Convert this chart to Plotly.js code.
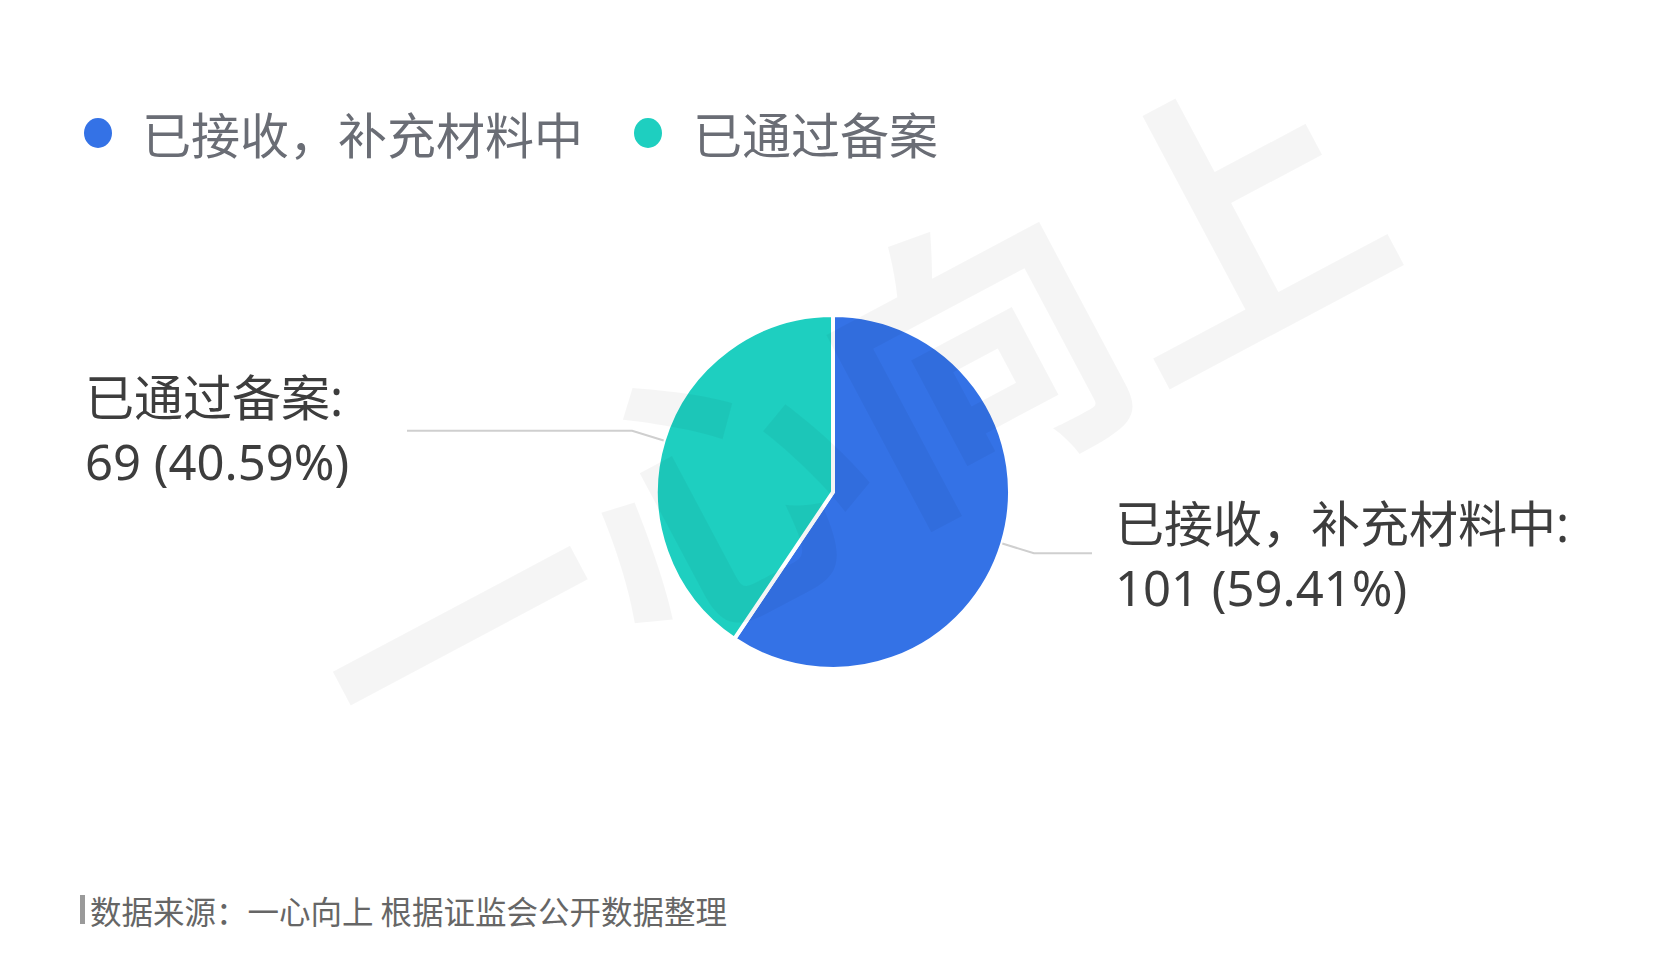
<!DOCTYPE html>
<html>
<head>
<meta charset="utf-8">
<script src="https://cdn.plot.ly/plotly-3.0.1.min.js"></script>
<style>
  html, body { margin: 0; padding: 0; background: #ffffff; }
  #chart { width: 1665px; height: 970px; }
</style>
</head>
<body>
<div id="chart"></div>
<script>
// ---- data ----
const categories = ["已接收，补充材料中", "已通过备案"];
const values = [101, 69];
const colors = ["#3472e6", "#1ecfc0"];
const sourceNote = "数据来源：一心向上 根据证监会公开数据整理";
const watermark = "一心向上";

// ---- layout constants (pixels) ----
const W = 1665, H = 970;
const cx = 833, cy = 492, R = 177;
const FONT = "Noto Sans CJK SC, sans-serif";
const LABEL_FONT = "Noto Sans, Noto Sans CJK SC, sans-serif";
const px = x => x / W;
const py = y => 1 - y / H;

const total = values.reduce((a, b) => a + b, 0);

const pie = {
  type: "pie",
  labels: categories,
  values: values,
  sort: false,
  direction: "clockwise",
  rotation: 0,
  textinfo: "none",
  hoverinfo: "label+value+percent",
  showlegend: false,
  marker: { colors: colors, line: { color: "#ffffff", width: 4 } },
  domain: { x: [px(cx - R), px(cx + R)], y: [py(cy + R), py(cy - R)] }
};

const shapes = [];
const annotations = [];

// leader lines + labels computed from slice angles
let cum = 0;
const labelTextX = { left: 83, right: 1113 };
const lineEndX = { left: 407, right: 1092 };
values.forEach((v, i) => {
  const mid = (cum + v / 2) / total * 2 * Math.PI;
  cum += v;
  const sx = Math.sin(mid), cy0 = -Math.cos(mid);
  const p0 = [cx + R * sx, cy + R * cy0];
  const p1 = [cx + (R + 33) * sx, cy + (R + 33) * cy0];
  const side = sx >= 0 ? "right" : "left";
  const p2 = [lineEndX[side], p1[1]];
  shapes.push({
    type: "path", xref: "paper", yref: "paper",
    path: `M ${px(p0[0])} ${py(p0[1])} L ${px(p1[0])} ${py(p1[1])} L ${px(p2[0])} ${py(p2[1])}`,
    line: { color: "#cfcfcf", width: 2 }
  });
  const pct = (v / total * 100).toFixed(2);
  annotations.push({
    xref: "paper", yref: "paper",
    x: px(labelTextX[side]), y: py(p1[1] + (side === "left" ? -2 : 2)),
    xanchor: "left", yanchor: "middle", align: "left",
    showarrow: false,
    text: `${categories[i]}:<br>${v} (${pct}%)`,
    font: { family: LABEL_FONT, size: 49, color: "#3d3d3d" }
  });
});

// custom legend (round markers)
const legendItems = [
  { dotX: 98, textX: 140 },
  { dotX: 648, textX: 691 }
];
const legendY = 133;
categories.forEach((c, i) => {
  const it = legendItems[i];
  shapes.push({
    type: "circle", xref: "paper", yref: "paper",
    x0: px(it.dotX - 14), x1: px(it.dotX + 14),
    y0: py(legendY + 15), y1: py(legendY - 15),
    fillcolor: colors[i], line: { width: 0 }
  });
  annotations.push({
    xref: "paper", yref: "paper",
    x: px(it.textX), y: py(legendY),
    xanchor: "left", yanchor: "middle",
    showarrow: false, text: c,
    font: { family: FONT, size: 49, color: "#6a6d75" }
  });
});

// source note with bar
shapes.push({
  type: "rect", xref: "paper", yref: "paper",
  x0: px(80), x1: px(85), y0: py(924), y1: py(895),
  fillcolor: "#9a9a9a", line: { width: 0 }
});
annotations.push({
  xref: "paper", yref: "paper",
  x: px(88), y: py(910),
  xanchor: "left", yanchor: "middle",
  showarrow: false, text: sourceNote,
  font: { family: FONT, size: 31.5, color: "#666666" }
});

// watermark
annotations.push({
  xref: "paper", yref: "paper",
  x: px(838), y: py(410),
  xanchor: "center", yanchor: "middle",
  showarrow: false, text: "<b>" + watermark + "</b>",
  textangle: -28,
  font: { family: FONT, size: 290, color: "rgba(0,0,0,0.04)" }
});

const layout = {
  width: W, height: H,
  margin: { l: 0, r: 0, t: 0, b: 0 },
  paper_bgcolor: "#ffffff",
  plot_bgcolor: "#ffffff",
  showlegend: false,
  shapes: shapes,
  annotations: annotations
};

Plotly.newPlot("chart", [pie], layout, { displayModeBar: false, staticPlot: true });
</script>
</body>
</html>
